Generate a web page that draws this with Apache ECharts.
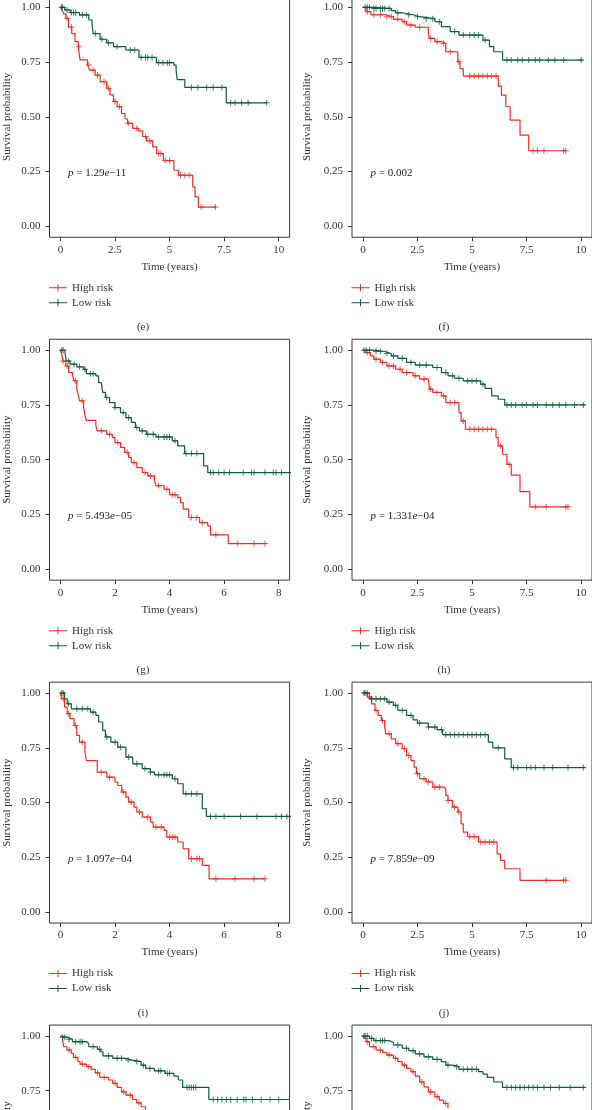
<!DOCTYPE html>
<html><head><meta charset="utf-8">
<script src="https://cdn.jsdelivr.net/npm/echarts@6/dist/echarts.min.js"></script>
<style>html,body{margin:0;padding:0;background:#fff}#c{width:592px;height:1110px}</style>
</head><body><div id="c"></div>
<script>
// ---------- tick labels / names ----------
const yTicks = [0, 0.25, 0.5, 0.75, 1];
const xTicks10 = [0, 2.5, 5, 7.5, 10];
const xTicks8 = [0, 2, 4, 6, 8];
const seriesNames = ['High risk', 'Low risk'];
const panelLetters = ['e', 'f', 'g', 'h', 'i', 'j', 'k', 'l'];
const pLabels = ['1.29e−11', '0.002', '5.493e−05', '1.331e−04', '1.097e−04', '7.859e−09', '', ''];

// ---------- KM step data: [time, survival after event] ----------
const e_high = [[0,1],[0.08,0.985],[0.15,0.97],[0.25,0.95],[0.37,0.91],[0.52,0.88],[0.67,0.843],[0.82,0.82],[0.9,0.76],[1.24,0.736],[1.33,0.713],[1.59,0.69],[1.82,0.66],[2.12,0.63],[2.27,0.6],[2.43,0.57],[2.6,0.546],[2.8,0.515],[2.96,0.49],[3.08,0.47],[3.31,0.447],[3.57,0.436],[3.77,0.41],[3.95,0.39],[4.23,0.363],[4.41,0.332],[4.72,0.3],[5.2,0.256],[5.4,0.233],[6.06,0.18],[6.17,0.134],[6.32,0.088],[7.13,0.088]];
const e_high_cens = [0.3,0.5,0.85,1.3,1.5,1.7,2.0,2.2,2.5,2.7,3.1,3.5,3.9,4.1,4.5,4.6,4.8,5.0,5.5,5.7,5.9,6.45,7.1];
const e_low = [[0,1],[0.2,0.988],[0.45,0.976],[0.87,0.965],[1.3,0.942],[1.45,0.92],[1.5,0.88],[1.82,0.854],[2.12,0.838],[2.43,0.82],[3.0,0.805],[3.6,0.771],[4.4,0.747],[5.2,0.736],[5.3,0.713],[5.35,0.67],[5.7,0.634],[7.6,0.564],[9.45,0.564]];
const e_low_cens = [0.05,0.1,0.3,0.5,0.6,0.7,1.0,1.2,1.6,1.9,2.2,2.6,3.2,3.4,3.7,3.9,4.0,4.2,4.5,4.7,4.9,5.0,6.0,6.3,6.7,7.0,7.4,7.8,8.0,8.3,8.6,9.45];

const f_high = [[0,1],[0.14,0.98],[0.37,0.966],[1.0,0.957],[1.4,0.945],[1.8,0.934],[2.0,0.919],[2.4,0.909],[3.0,0.881],[3.05,0.858],[3.3,0.843],[3.6,0.835],[3.8,0.797],[4.35,0.751],[4.45,0.72],[4.6,0.686],[6.2,0.64],[6.35,0.599],[6.55,0.546],[6.75,0.485],[7.2,0.416],[7.6,0.345],[9.3,0.345]];
const f_high_cens = [0.2,0.5,0.8,1.1,1.3,1.6,1.9,2.2,2.6,3.1,3.4,3.7,4.0,4.4,4.9,5.1,5.3,5.5,5.7,5.9,6.1,7.8,8.0,8.3,9.2,9.3];
const f_low = [[0,1],[0.4,0.995],[1.3,0.985],[1.5,0.975],[1.8,0.966],[2.3,0.957],[2.6,0.948],[3.3,0.934],[3.6,0.912],[4.0,0.889],[4.4,0.873],[5.5,0.85],[5.8,0.82],[6.0,0.797],[6.4,0.759],[10.1,0.759]];
const f_low_cens = [0.1,0.2,0.3,0.5,0.6,0.8,0.9,1.0,1.2,1.6,2.1,2.5,2.9,3.2,3.5,4.2,4.6,4.9,5.1,5.3,5.6,6.6,6.8,7.1,7.3,7.6,7.9,8.1,8.5,8.8,9.2,10.0];

const g_high = [[0,1],[0.05,0.98],[0.1,0.95],[0.2,0.928],[0.3,0.898],[0.45,0.883],[0.5,0.86],[0.6,0.822],[0.65,0.8],[0.7,0.769],[0.85,0.738],[0.9,0.7],[0.95,0.68],[1.3,0.655],[1.35,0.632],[1.7,0.616],[1.9,0.601],[2.0,0.578],[2.2,0.556],[2.35,0.533],[2.5,0.51],[2.6,0.487],[2.8,0.464],[3.0,0.441],[3.2,0.426],[3.45,0.403],[3.5,0.381],[3.8,0.365],[4.0,0.34],[4.3,0.327],[4.4,0.304],[4.5,0.274],[4.7,0.236],[5.1,0.213],[5.4,0.198],[5.5,0.157],[6.15,0.117],[7.5,0.117]];
const g_high_cens = [0.1,0.25,0.55,0.8,1.5,1.8,2.1,2.45,2.7,3.1,3.3,3.6,3.9,4.1,4.2,4.8,5.0,5.2,5.7,6.5,7.1,7.5];
const g_low = [[0,1],[0.17,0.982],[0.22,0.951],[0.35,0.936],[0.6,0.924],[0.85,0.913],[0.95,0.893],[1.3,0.883],[1.4,0.852],[1.5,0.845],[1.55,0.807],[1.65,0.784],[1.8,0.761],[2.0,0.738],[2.2,0.715],[2.4,0.692],[2.6,0.67],[2.75,0.647],[2.9,0.632],[3.15,0.616],[3.5,0.604],[4.1,0.586],[4.3,0.563],[4.55,0.528],[5.25,0.472],[5.4,0.441],[8.5,0.441]];
const g_low_cens = [0.05,0.1,0.3,0.5,0.7,0.9,1.1,1.2,1.7,2.0,2.3,2.5,2.8,3.0,3.2,3.4,3.6,3.8,3.9,4.0,4.2,4.6,4.8,5.0,5.5,5.6,5.8,6.0,6.2,6.7,7.0,7.1,7.5,7.8,7.9,8.1];

const h_high = [[0,1],[0.1,0.989],[0.35,0.974],[0.5,0.959],[0.8,0.944],[1.1,0.928],[1.5,0.913],[1.8,0.898],[2.3,0.883],[2.6,0.868],[3.0,0.86],[3.05,0.822],[3.2,0.807],[3.6,0.791],[3.8,0.761],[4.4,0.715],[4.5,0.677],[4.7,0.639],[6.1,0.601],[6.2,0.563],[6.4,0.525],[6.6,0.479],[6.8,0.43],[7.2,0.354],[7.65,0.285],[9.4,0.285]];
const h_high_cens = [0.2,0.6,0.9,1.2,1.4,1.7,2.0,2.4,2.8,3.1,3.4,3.7,4.0,4.2,4.6,4.9,5.1,5.3,5.5,5.7,5.9,6.3,6.7,7.9,8.4,9.3,9.4];
const h_low = [[0,1],[0.5,0.994],[1.0,0.985],[1.3,0.974],[1.6,0.963],[2.0,0.944],[2.4,0.932],[3.2,0.921],[3.6,0.898],[3.9,0.883],[4.2,0.872],[4.6,0.86],[5.4,0.845],[5.6,0.826],[5.9,0.791],[6.2,0.776],[6.5,0.75],[10.2,0.75]];
const h_low_cens = [0.05,0.15,0.3,0.6,0.8,1.1,1.4,1.8,2.2,2.6,2.9,3.4,3.8,4.1,4.4,4.8,5.0,5.2,5.5,6.6,6.8,7.0,7.3,7.5,7.8,8.0,8.4,8.7,9.0,9.3,9.7,10.1];

const i_high = [[0,1],[0.05,0.974],[0.15,0.936],[0.25,0.906],[0.35,0.883],[0.5,0.852],[0.6,0.807],[0.7,0.776],[0.9,0.73],[0.95,0.692],[1.35,0.639],[1.7,0.616],[2.0,0.594],[2.1,0.578],[2.25,0.548],[2.4,0.525],[2.5,0.502],[2.7,0.479],[2.8,0.457],[3.0,0.434],[3.3,0.411],[3.4,0.388],[3.8,0.373],[3.9,0.342],[4.3,0.32],[4.5,0.289],[4.7,0.244],[5.2,0.213],[5.45,0.152],[7.5,0.152]];
const i_high_cens = [0.1,0.3,0.55,0.8,1.5,1.8,2.3,2.6,2.9,3.2,3.5,3.7,4.0,4.1,4.2,4.8,5.0,5.1,5.7,6.4,7.1,7.5];
const i_low = [[0,1],[0.15,0.974],[0.25,0.951],[0.4,0.928],[1.1,0.913],[1.3,0.898],[1.4,0.868],[1.55,0.83],[1.65,0.8],[1.85,0.776],[2.1,0.753],[2.4,0.708],[2.65,0.677],[3.0,0.655],[3.3,0.639],[3.45,0.627],[4.1,0.609],[4.3,0.586],[4.5,0.54],[5.2,0.472],[5.35,0.437],[8.5,0.437]];
const i_low_cens = [0.05,0.1,0.3,0.6,0.8,1.0,1.2,1.7,2.0,2.2,2.5,2.8,3.1,3.3,3.6,3.8,3.9,4.0,4.2,4.6,4.8,5.0,5.5,5.7,6.0,6.6,7.2,7.9,8.1,8.3];

const j_high = [[0,1],[0.2,0.982],[0.4,0.951],[0.55,0.921],[0.7,0.898],[0.85,0.875],[1.0,0.845],[1.05,0.814],[1.3,0.791],[1.5,0.769],[1.8,0.746],[2.0,0.715],[2.2,0.692],[2.35,0.662],[2.45,0.632],[2.6,0.609],[2.9,0.594],[3.2,0.571],[3.7,0.563],[3.8,0.533],[3.9,0.51],[4.1,0.479],[4.35,0.457],[4.5,0.403],[4.6,0.365],[4.8,0.345],[5.3,0.32],[6.15,0.266],[6.3,0.236],[6.5,0.198],[7.2,0.145],[9.3,0.145]];
const j_high_cens = [0.3,0.6,0.9,1.2,1.6,1.9,2.1,2.5,2.8,3.0,3.3,3.5,3.9,4.2,4.4,4.9,5.1,5.4,5.6,5.8,6.0,8.4,9.2,9.3];
const j_low = [[0,1],[0.3,0.974],[1.1,0.959],[1.4,0.944],[1.6,0.921],[2.0,0.898],[2.3,0.878],[2.5,0.863],[3.0,0.845],[3.4,0.833],[3.65,0.81],[5.75,0.776],[5.95,0.75],[6.5,0.7],[6.8,0.66],[10.2,0.66]];
const j_low_cens = [0.05,0.1,0.2,0.4,0.6,0.8,1.0,1.2,1.5,1.8,2.2,2.6,3.0,3.3,3.6,3.8,4.0,4.2,4.4,4.6,4.8,5.0,5.2,5.4,5.6,6.2,6.9,7.1,7.5,7.7,7.9,8.3,8.7,9.4,10.1];

const k_high = [[0,1],[0.1,0.982],[0.15,0.951],[0.3,0.936],[0.5,0.921],[0.6,0.902],[0.8,0.883],[0.9,0.872],[1.2,0.86],[1.4,0.848],[1.6,0.832],[1.8,0.811],[2.2,0.799],[2.4,0.784],[2.6,0.765],[2.8,0.745],[3.0,0.73],[3.3,0.71],[3.5,0.695],[3.7,0.677],[3.9,0.66]];
const k_high_cens = [0.4,0.7,1.0,1.3,1.7,2.0,2.5,2.9,3.2,3.6];
const k_low = [[0,1],[0.05,0.994],[0.3,0.985],[0.55,0.974],[1.2,0.966],[1.3,0.951],[1.7,0.939],[1.85,0.928],[1.95,0.909],[2.4,0.898],[3.0,0.89],[3.3,0.883],[3.7,0.867],[3.9,0.852],[4.3,0.841],[4.8,0.829],[5.2,0.817],[5.4,0.799],[5.6,0.765],[6.8,0.71],[10.5,0.71]];
const k_low_cens = [0.1,0.2,0.4,0.7,0.9,1.0,1.5,1.8,2.2,2.6,2.8,3.1,3.5,3.8,4.1,4.5,4.6,4.9,5.0,5.8,5.9,6.0,6.1,6.2,7.0,7.2,7.4,7.6,7.8,8.1,8.4,8.5,8.8,9.2,9.6,10.0];

const l_high = [[0,1],[0.05,0.989],[0.15,0.974],[0.3,0.951],[0.6,0.936],[0.9,0.924],[1.1,0.913],[1.4,0.898],[1.6,0.883],[1.8,0.867],[2.0,0.852],[2.2,0.837],[2.4,0.817],[2.6,0.79],[2.8,0.768],[3.0,0.745],[3.3,0.723],[3.5,0.707],[3.7,0.692],[3.9,0.67]];
const l_high_cens = [0.2,0.5,0.8,1.2,1.5,1.9,2.3,2.7,3.1,3.4,3.8];
const l_low = [[0,1],[0.3,0.989],[0.5,0.979],[1.2,0.97],[1.4,0.959],[1.8,0.944],[2.1,0.933],[2.4,0.918],[2.8,0.905],[3.2,0.893],[3.6,0.883],[3.8,0.867],[4.1,0.86],[4.4,0.848],[5.3,0.837],[5.5,0.826],[5.7,0.811],[6.0,0.79],[6.4,0.765],[10.2,0.765]];
const l_low_cens = [0.05,0.1,0.2,0.4,0.6,0.8,0.9,1.0,1.6,2.0,2.3,2.6,3.0,3.4,3.9,4.3,4.6,4.8,5.0,5.2,6.6,6.8,7.0,7.2,7.4,7.6,7.8,8.0,8.3,8.6,9.0,9.5,10.1];

const panelData = [
  {high: e_high, highCens: e_high_cens, low: e_low, lowCens: e_low_cens, xTicks: xTicks10},
  {high: f_high, highCens: f_high_cens, low: f_low, lowCens: f_low_cens, xTicks: xTicks10},
  {high: g_high, highCens: g_high_cens, low: g_low, lowCens: g_low_cens, xTicks: xTicks8},
  {high: h_high, highCens: h_high_cens, low: h_low, lowCens: h_low_cens, xTicks: xTicks10},
  {high: i_high, highCens: i_high_cens, low: i_low, lowCens: i_low_cens, xTicks: xTicks8},
  {high: j_high, highCens: j_high_cens, low: j_low, lowCens: j_low_cens, xTicks: xTicks10},
  {high: k_high, highCens: k_high_cens, low: k_low, lowCens: k_low_cens, xTicks: xTicks10},
  {high: l_high, highCens: l_high_cens, low: l_low, lowCens: l_low_cens, xTicks: xTicks10}
];

// ---------- layout & style ----------
const ROW0 = 7.3, ROWSTEP = 342.9, PH = 219;
const COLS = [
  {left: 49.5, width: 240.1, cap: 143, nameGap: 37},
  {left: 352, width: 240, cap: 444, nameGap: 39}
];
const RED = '#EC2D1F', GREEN = '#0D5E39', INK = '#333';
const FONT = '"Liberation Serif","Times New Roman",serif';
const PLUS = 'path://M2.5,0H3.5V2.5H6V3.5H3.5V6H2.5V3.5H0V2.5H2.5Z';
const LEG_ICON = 'path://M0,3H8.5V0H9.5V3H18V4H9.5V7H8.5V4H0Z';

function survAt(curve, t) {
  let s = 1;
  for (const [x, y] of curve) { if (x <= t) s = y; else break; }
  return s;
}

const grids = [], xAxes = [], yAxes = [], series = [], legends = [], graphics = [];
panelData.forEach((p, i) => {
  const col = COLS[i % 2], row = Math.floor(i / 2);
  const y1 = ROW0 + ROWSTEP * row;
  const xmax = p.xTicks[p.xTicks.length - 1];
  const pad = xmax * 0.05;
  grids.push({left: col.left, top: y1 - 0.05 * PH, width: col.width, height: 1.1 * PH,
    show: true, borderColor: '#3a3a3a', borderWidth: 1, backgroundColor: 'transparent',
    containLabel: false, outerBoundsMode: 'none'});
  xAxes.push({type: 'value', gridIndex: i, min: -pad, max: xmax + pad, position: 'bottom',
    name: 'Time (years)', nameLocation: 'middle', nameGap: 24,
    nameTextStyle: {fontFamily: FONT, fontSize: 11, color: INK},
    axisLine: {show: false, onZero: false}, splitLine: {show: false},
    axisTick: {show: true, length: 4, customValues: p.xTicks, lineStyle: {color: INK, width: 1}},
    axisLabel: {show: true, customValues: p.xTicks, margin: 7, fontFamily: FONT, fontSize: 11, color: INK,
      hideOverlap: false, formatter: v => String(v)}});
  yAxes.push({type: 'value', gridIndex: i, min: -0.05, max: 1.05, position: 'left',
    name: 'Survival probability', nameLocation: 'middle', nameGap: col.nameGap,
    nameTextStyle: {fontFamily: FONT, fontSize: 11, color: INK},
    axisLine: {show: false, onZero: false}, splitLine: {show: false},
    axisTick: {show: true, length: 4, customValues: yTicks, lineStyle: {color: INK, width: 1}},
    axisLabel: {show: true, customValues: yTicks, margin: 9, fontFamily: FONT, fontSize: 11, color: INK,
      hideOverlap: false, formatter: v => v.toFixed(2)}});
  const groups = [
    {name: seriesNames[0], curve: p.high, cens: p.highCens, color: RED},
    {name: seriesNames[1], curve: p.low, cens: p.lowCens, color: GREEN}
  ];
  groups.forEach(g => {
    series.push({type: 'line', name: g.name, xAxisIndex: i, yAxisIndex: i, data: g.curve,
      step: 'end', symbol: 'none', showSymbol: false, silent: true, color: g.color,
      lineStyle: {color: g.color, width: 1.2}, itemStyle: {color: g.color}, z: 2});
    series.push({type: 'scatter', name: g.name, xAxisIndex: i, yAxisIndex: i,
      data: g.cens.map(c => [c, survAt(g.curve, c)]),
      symbol: PLUS, symbolSize: 6, silent: true, itemStyle: {color: g.color}, z: 3});
  });
  legends.push({orient: 'vertical', left: col.left - 0.5, top: y1 + 275, padding: 0,
    itemWidth: 18, itemHeight: 7, itemGap: 4, icon: LEG_ICON, selectedMode: false,
    data: seriesNames, textStyle: {fontFamily: FONT, fontSize: 11, color: INK, lineHeight: 11}});
  if (pLabels[i]) {
    graphics.push({type: 'text', x: col.left + 18.5, y: y1 + 166, silent: true,
      style: {text: '{i|p} = ' + pLabels[i].replace('e', '{i|e}'), fontFamily: FONT, fontSize: 11,
        fill: '#222', align: 'left', verticalAlign: 'middle',
        rich: {i: {fontStyle: 'italic', fontFamily: FONT, fontSize: 11, fill: '#222'}}}});
  }
  graphics.push({type: 'text', x: col.cap, y: y1 + 320, silent: true,
    style: {text: '(' + panelLetters[i] + ')', fontFamily: FONT, fontSize: 11, fill: INK,
      align: 'center', verticalAlign: 'middle'}});
});

const chart = echarts.init(document.getElementById('c'), null, {renderer: 'canvas'});
chart.setOption({
  animation: false,
  backgroundColor: '#fff',
  textStyle: {fontFamily: FONT},
  grid: grids, xAxis: xAxes, yAxis: yAxes, series: series, legend: legends, graphic: graphics,
  tooltip: {show: false}
});
</script></body></html>
